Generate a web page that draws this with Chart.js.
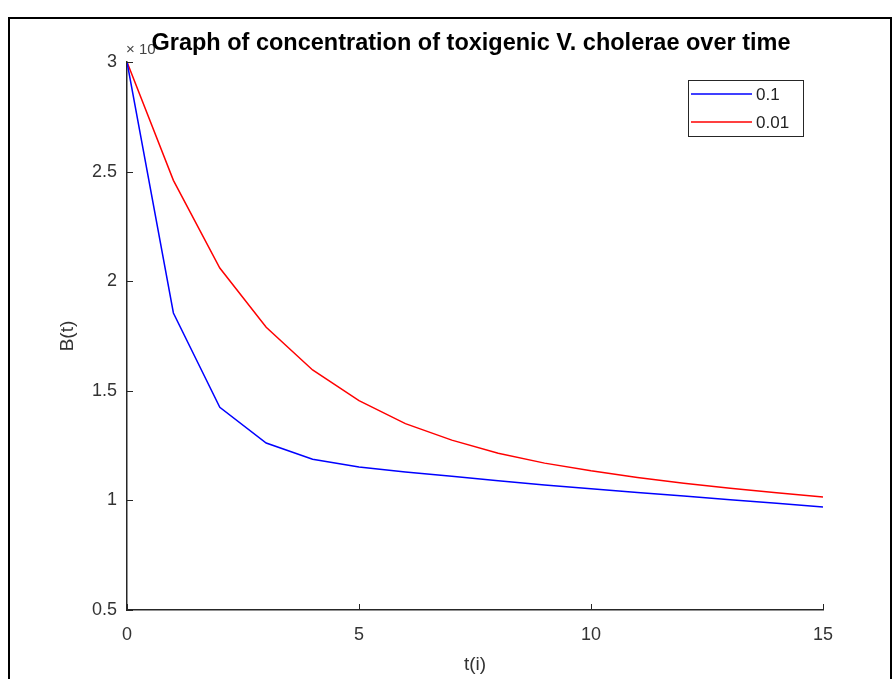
<!DOCTYPE html>
<html>
<head>
<meta charset="utf-8">
<script src="https://cdn.jsdelivr.net/npm/chart.js@4/dist/chart.umd.min.js"></script>
<style>
  html, body { margin: 0; padding: 0; background: #fff; }
  #wrap { width: 894px; height: 679px; }
</style>
</head>
<body>
<div id="wrap"><canvas id="chart" width="894" height="679"></canvas></div>
<script>
const times = [0, 1, 2, 3, 4, 5, 6, 7, 8, 9, 10, 11, 12, 13, 14, 15];
const rate01 = [3.0, 1.855, 1.425, 1.262, 1.188, 1.152, 1.13, 1.11, 1.09, 1.07, 1.053, 1.036, 1.02, 1.003, 0.987, 0.97];
const rate001 = [3.0, 2.46, 2.06, 1.79, 1.595, 1.455, 1.35, 1.275, 1.215, 1.17, 1.135, 1.105, 1.078, 1.055, 1.035, 1.015];
const seriesNames = ['0.1', '0.01'];
const xTicks = [0, 5, 10, 15];
const yTicks = [0.5, 1, 1.5, 2, 2.5, 3];
const titleText = 'Graph of concentration of toxigenic V. cholerae over time';

const axisColor = '#262626';
const fontFamily = 'Arial, "Liberation Sans", Helvetica, sans-serif';

const toPoints = (ys) => times.map((t, i) => ({ x: t, y: ys[i] }));

// figure frame, inward ticks, title, exponent and legend, MATLAB style
const matlabLook = {
    id: 'matlabLook',
    beforeDraw(chart) {
        const c = chart.ctx;
        c.save();
        c.fillStyle = '#fff';
        c.fillRect(0, 0, chart.width, chart.height);
        c.strokeStyle = '#000';
        c.lineWidth = 2;
        c.strokeRect(9, 18, 882, 720);
        c.restore();
    },
    afterDraw(chart) {
        const c = chart.ctx;
        const xs = chart.scales.x, ys = chart.scales.y;
        const area = chart.chartArea;
        c.save();
        c.strokeStyle = axisColor;
        c.lineWidth = 1;
        xTicks.forEach(v => {
            const px = Math.round(xs.getPixelForValue(v)) + 0.5;
            c.beginPath();
            c.moveTo(px, area.bottom);
            c.lineTo(px, area.bottom - 6);
            c.stroke();
        });
        yTicks.forEach(v => {
            const py = Math.round(ys.getPixelForValue(v)) + 0.5;
            c.beginPath();
            c.moveTo(area.left, py);
            c.lineTo(area.left + 6, py);
            c.stroke();
        });

        // exponent label (partly hidden by the title)
        c.fillStyle = '#444';
        c.font = '15px ' + fontFamily;
        c.textAlign = 'left';
        c.textBaseline = 'middle';
        c.fillText('\u00d7 10', area.left - 1, 50);

        // title
        c.fillStyle = '#000';
        c.font = 'bold 23.5px ' + fontFamily;
        c.textAlign = 'center';
        c.fillText(titleText, 471, 44);

        // legend
        const boxL = 688, boxT = 80, boxR = 803, rowH = 28;
        const boxB = boxT + rowH * chart.data.datasets.length;
        c.fillStyle = '#fff';
        c.fillRect(boxL, boxT, boxR - boxL, boxB - boxT);
        c.strokeStyle = '#262626';
        c.lineWidth = 1;
        c.strokeRect(boxL + 0.5, boxT + 0.5, boxR - boxL, boxB - boxT);
        c.font = '17px ' + fontFamily;
        c.textAlign = 'left';
        chart.data.datasets.forEach((ds, i) => {
            const y = boxT + 14 + i * rowH;
            c.strokeStyle = ds.borderColor;
            c.lineWidth = 1.5;
            c.beginPath();
            c.moveTo(boxL + 3, y);
            c.lineTo(boxL + 64, y);
            c.stroke();
            c.fillStyle = '#222';
            c.fillText(ds.label, boxL + 68, y + 1);
        });
        c.restore();
    }
};

const data = {
    datasets: [
        {
            label: seriesNames[0],
            data: toPoints(rate01),
            borderColor: 'rgb(0, 0, 255)',
            borderWidth: 1.5,
            pointRadius: 0,
            tension: 0,
            fill: false,
        },
        {
            label: seriesNames[1],
            data: toPoints(rate001),
            borderColor: 'rgb(255, 0, 0)',
            borderWidth: 1.5,
            pointRadius: 0,
            tension: 0,
            fill: false,
        },
    ]
};

const options = {
    responsive: false,
    animation: false,
    layout: {
        padding: { left: 0, right: 71, top: 62, bottom: 0 }
    },
    plugins: {
        legend: { display: false },
        title: { display: false },
        tooltip: { enabled: false },
    },
    scales: {
        x: {
            type: 'linear',
            min: 0,
            max: 15,
            afterBuildTicks: (scale) => { scale.ticks = xTicks.map(v => ({ value: v })); },
            afterFit: (scale) => { scale.height = 69; },
            grid: { display: false, drawTicks: false },
            border: { display: true, color: axisColor, width: 1.5 },
            ticks: {
                color: '#333',
                font: { family: fontFamily, size: 18 },
                padding: 14,
                maxRotation: 0,
                callback: (v) => String(v),
            },
            title: {
                display: true,
                text: 't(i)',
                color: '#333',
                font: { family: fontFamily, size: 19 },
                padding: { top: 0, bottom: 3 },
            },
        },
        y: {
            min: 0.5,
            max: 3,
            afterBuildTicks: (scale) => { scale.ticks = yTicks.map(v => ({ value: v })); },
            afterFit: (scale) => { scale.width = 127; },
            grid: { display: false, drawTicks: false },
            border: { display: true, color: axisColor, width: 1.5 },
            ticks: {
                color: '#333',
                font: { family: fontFamily, size: 18 },
                padding: 10,
                callback: (v) => String(v),
            },
            title: {
                display: true,
                text: 'B(t)',
                color: '#333',
                font: { family: fontFamily, size: 19 },
                padding: { top: 56, bottom: 0 },
            },
        },
    },
};

const ctx = document.getElementById('chart').getContext('2d');
const lineChart = new Chart(ctx, {
    type: 'line',
    data: data,
    options: options,
    plugins: [matlabLook],
});
</script>
</body>
</html>
